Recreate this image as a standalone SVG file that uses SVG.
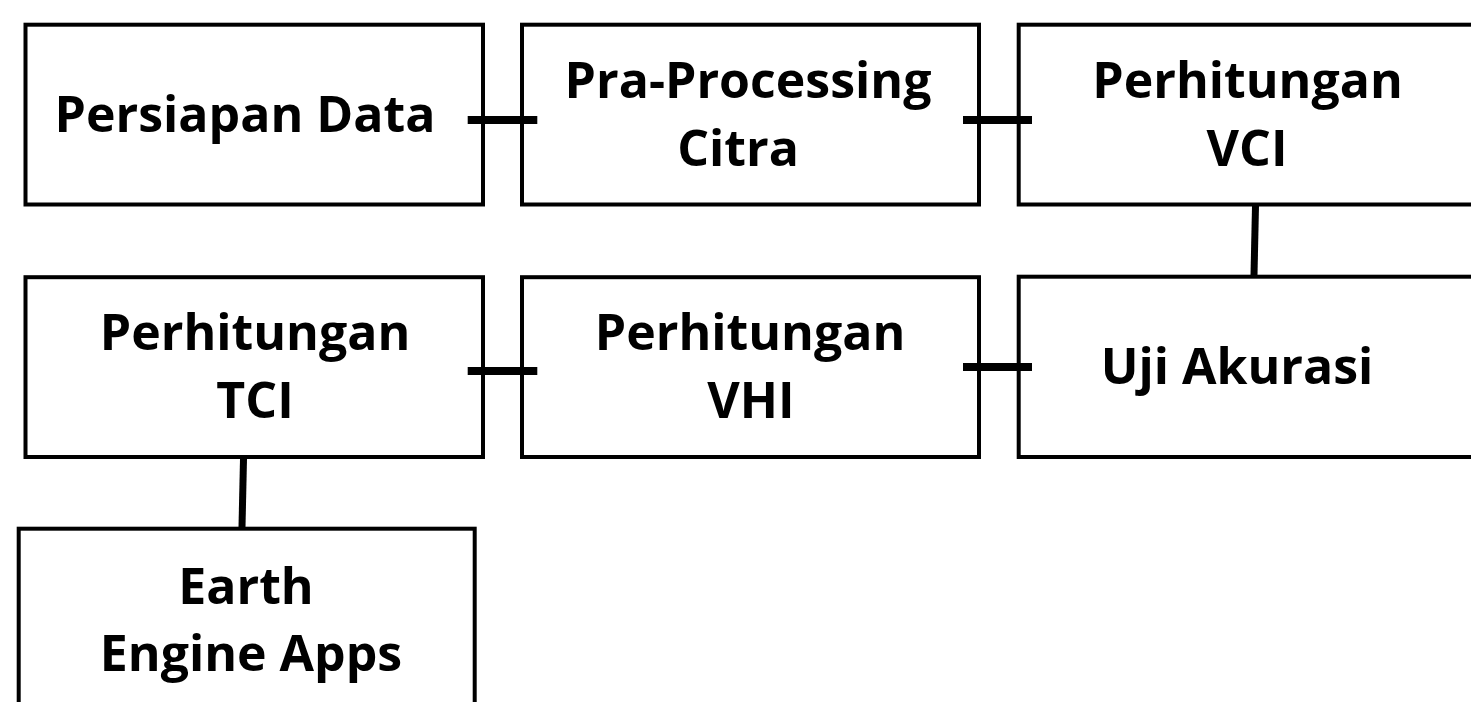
<svg xmlns="http://www.w3.org/2000/svg" width="1471" height="702" viewBox="0 0 1471 702">
<style>
.box{fill:#fff;stroke:#000;stroke-width:4}
.lbl{font-family:"Open Sans","Liberation Sans",sans-serif;font-weight:700;font-size:50px;fill:#000;text-anchor:middle}
.con{stroke:#000;fill:none}
.h{stroke-width:8}
.v{stroke-width:7}
</style>
<rect width="1471" height="702" fill="#fff"/>
<g id="n1"><rect class="box" x="25.5" y="24.7" width="457.5" height="179.8"/><text class="lbl" x="245" y="132">Persiapan Data</text></g>
<g id="n2"><rect class="box" x="522" y="24.7" width="457" height="179.8"/><text class="lbl" x="748" y="98">Pra-Processing</text><text class="lbl" x="738" y="166">Citra</text></g>
<g id="n3"><rect class="box" x="1018.7" y="24.7" width="480" height="179.8"/><text class="lbl" x="1247.5" y="98">Perhitungan</text><text class="lbl" x="1247" y="166">VCI</text></g>
<g id="n4"><rect class="box" x="25.5" y="277.2" width="457.5" height="179.8"/><text class="lbl" x="255" y="350">Perhitungan</text><text class="lbl" x="255" y="418">TCI</text></g>
<g id="n5"><rect class="box" x="522" y="277.2" width="457" height="179.8"/><text class="lbl" x="750" y="350">Perhitungan</text><text class="lbl" x="751" y="418">VHI</text></g>
<g id="n6"><rect class="box" x="1018.7" y="276.7" width="480" height="180.3"/><text class="lbl" x="1237" y="384">Uji Akurasi</text></g>
<g id="n7"><rect class="box" x="18.7" y="528.7" width="456" height="200"/><text class="lbl" x="246" y="604">Earth</text><text class="lbl" x="251" y="671">Engine Apps</text></g>
<g id="connectors">
<line class="con h" x1="467.7" y1="120" x2="537.3" y2="120"/>
<line class="con h" x1="963" y1="120" x2="1032" y2="120"/>
<line class="con h" x1="467.7" y1="371" x2="537.3" y2="371"/>
<line class="con h" x1="963" y1="367" x2="1032" y2="367"/>
<line class="con v" x1="1255.5" y1="206" x2="1254" y2="275"/>
<line class="con v" x1="243.5" y1="459" x2="242" y2="527"/>
</g>
</svg>
